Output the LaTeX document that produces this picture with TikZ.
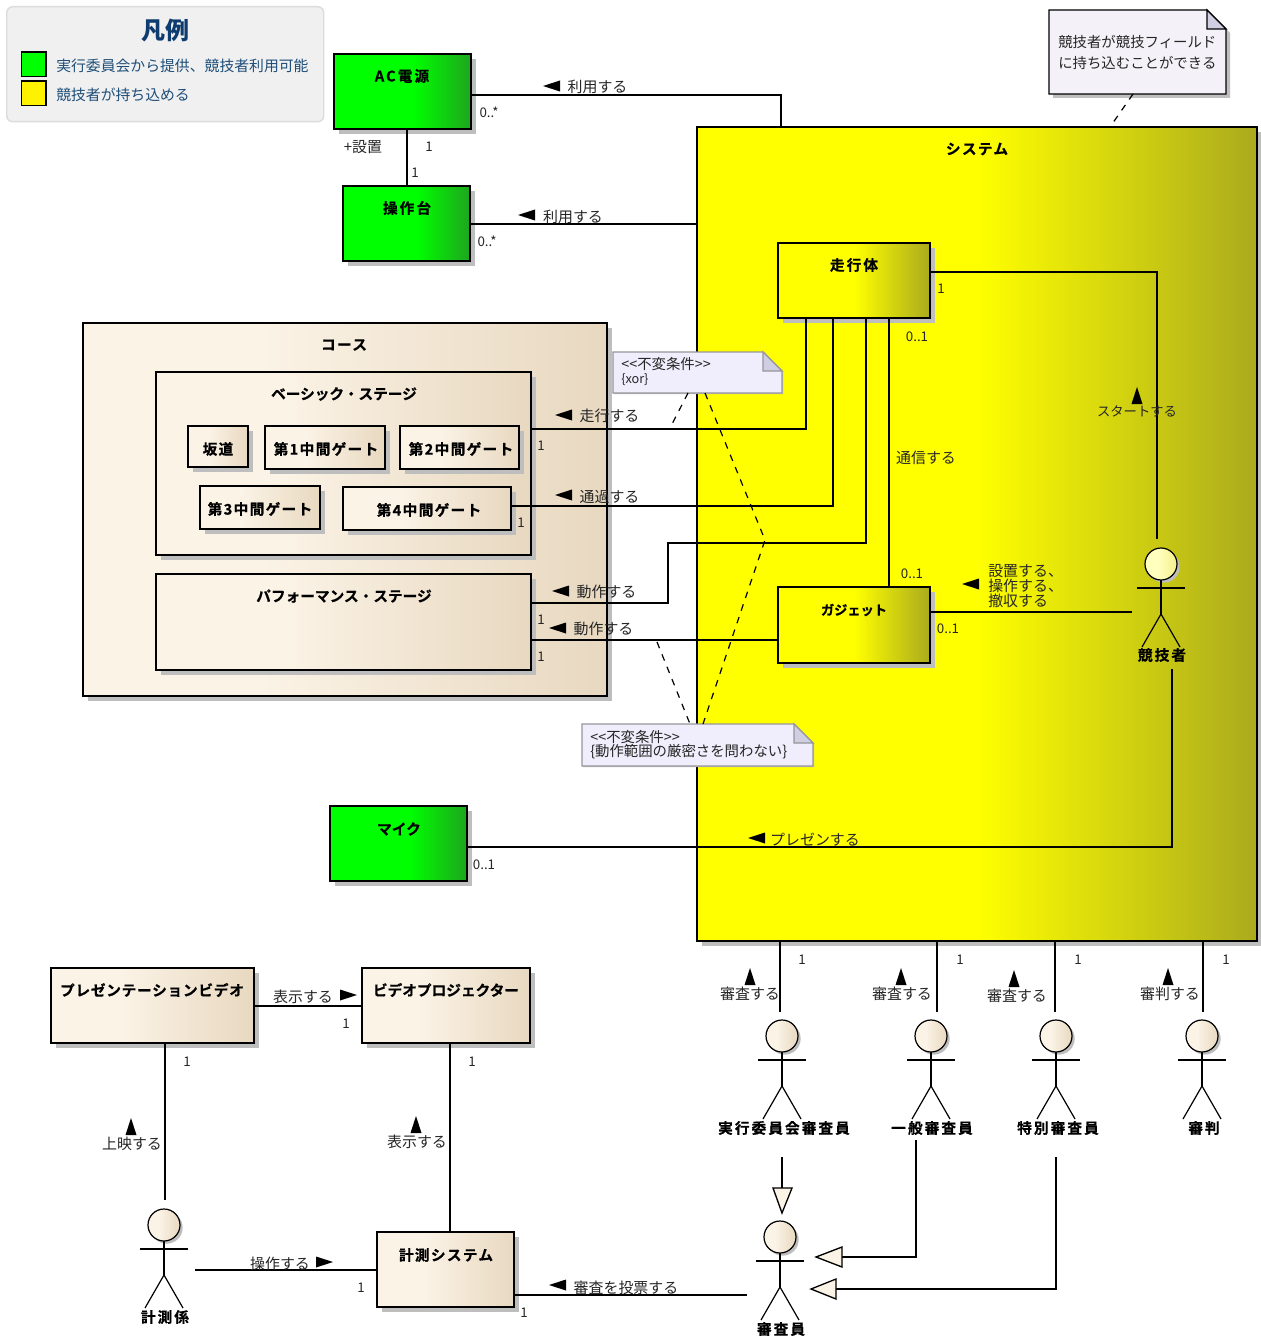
\documentclass[tikz,border=0pt]{standalone}
\usepackage{fontspec}
\setmainfont{Noto Sans CJK JP}
\newfontfamily\tkb[LetterSpace=14,BoldFont=* Bold,BoldFeatures={FakeBold=0.6}]{Noto Sans CJK JP}
\newfontfamily\tkg[LetterSpace=9,BoldFont=* Bold,BoldFeatures={FakeBold=0.6}]{Noto Sans CJK JP}
\newfontfamily\tkm[LetterSpace=5,BoldFont=* Bold,BoldFeatures={FakeBold=0.6}]{Noto Sans CJK JP}
\newfontfamily\tkc[BoldFont=* Bold,BoldFeatures={FakeBold=0.6}]{Noto Sans CJK JP}
\usetikzlibrary{shadows}
\definecolor{shgray}{RGB}{190,190,190}
\definecolor{gend}{RGB}{30,165,30}
\definecolor{yend}{RGB}{170,170,30}
\definecolor{bl}{RGB}{251,243,230}
\definecolor{br}{RGB}{232,216,192}
\definecolor{hl}{RGB}{255,255,190}
\definecolor{hr}{RGB}{245,240,140}
\definecolor{notefill}{RGB}{240,238,252}
\definecolor{notefilla}{RGB}{245,241,248}
\definecolor{notefold}{RGB}{208,206,226}
\definecolor{noteline}{RGB}{150,150,155}
\definecolor{navy}{RGB}{14,60,110}
\definecolor{legtext}{RGB}{30,78,121}
\definecolor{legfill}{RGB}{240,240,240}
\definecolor{legline}{RGB}{220,220,220}
\pgfdeclarehorizontalshading{gshade}{100bp}{color(0bp)=(green); color(54bp)=(green); color(75bp)=(gend); color(100bp)=(gend)}
\pgfdeclarehorizontalshading{yshade}{100bp}{color(0bp)=(yellow); color(50bp)=(yellow); color(75bp)=(yend); color(100bp)=(yend)}
\pgfdeclarehorizontalshading{bshade}{100bp}{color(0bp)=(bl); color(25bp)=(bl); color(42bp)=(bl); color(75bp)=(br); color(100bp)=(br)}
\pgfdeclarehorizontalshading{hshade}{100bp}{color(0bp)=(hl); color(45bp)=(hl); color(75bp)=(hr); color(100bp)=(hr)}
\tikzset{
  cbox/.style={draw=black,line width=1pt,anchor=north west,inner sep=0pt,outer sep=0pt,rectangle,
    drop shadow={shadow xshift=4pt,shadow yshift=-4pt,fill=shgray,opacity=1}},
  conn/.style={draw=black,line width=1pt},
  dashc/.style={draw=black,line width=.9pt,dash pattern=on 5pt off 5pt},
  gen/.style={draw=black,line width=1pt,fill=bl},
  ttl/.style={font=\tkb\fontsize{11}{13}\selectfont\bfseries,inner sep=0pt},
  ttlg/.style={font=\tkg\fontsize{11}{13}\selectfont\bfseries,inner sep=0pt},
  ttlm/.style={font=\tkm\fontsize{11}{13}\selectfont\bfseries,inner sep=0pt},
  ttlc/.style={font=\tkc\fontsize{11}{13}\selectfont\bfseries,inner sep=0pt},
  txt/.style={font=\fontsize{11.2}{13}\selectfont,inner sep=0pt,text=black!85},
  txtl/.style={txt,anchor=west},
  num/.style={font=\fontsize{10}{12}\selectfont,inner sep=0pt,text=black!85},
  notet/.style={font=\fontsize{10.8}{12}\selectfont,inner sep=0pt,anchor=west,text=black!85},
  limb/.style={draw=black,line width=.9pt},
  legt/.style={font=\fontsize{11.13}{13}\selectfont,inner sep=0pt,anchor=west,text=legtext}
}
\newcount\tcnt
\newcommand{\tname}{\global\advance\tcnt by 1 }
\newcommand{\lab}[4]{\tname\node[#1,name=t\the\tcnt] at (#2,#3) {#4};}
\newcommand{\cls}[6]{\node[cbox,shading=#6,name=#1,minimum width={(#4-#2)*0.75pt},minimum height={(#5-#3)*0.75pt}] at (#2,#3) {};}
\newcommand{\tl}[2]{\fill[black] (#1,#2) -- ++(17,-5.5) -- ++(0,11) -- cycle;}
\newcommand{\tr}[2]{\fill[black] (#1+17,#2) -- ++(-17,-5.5) -- ++(0,11) -- cycle;}
\newcommand{\tu}[2]{\fill[black] (#1,#2) -- ++(5.5,17) -- ++(-11,0) -- cycle;}
% name, x, head y, shade, label x, label y, label
\newcommand{\actor}[7]{%
  \node[circle,draw=black,line width=.9pt,inner sep=0pt,outer sep=0pt,minimum size=24pt,shading=#4,
    drop shadow={shadow xshift=2pt,shadow yshift=-2pt,fill=shgray,opacity=1},name=#1] at (#2,#3) {};
  \draw[limb] (#1.south) -- (#2,#3+50);
  \draw[limb] (#2-24,#3+24) -- (#2+24,#3+24);
  \draw[limb] (#2-19,#3+83) -- (#2,#3+50) -- (#2+19,#3+83);
  \lab{ttl}{#5}{#6}{#7}}
% name, x1,y1,x2,y2, border colour, fill, fold fill, shadow offset
\newcommand{\notebox}[9]{%
  \node[rectangle,inner sep=0pt,outer sep=0pt,anchor=north west,name=#1,minimum width={(#4-#2)*0.75pt},minimum height={(#5-#3)*0.75pt}] at (#2,#3) {};
  \fill[shgray] (#2+#9,#3+#9) -- (#4+#9-19,#3+#9) -- (#4+#9,#3+19+#9) -- (#4+#9,#5+#9) -- (#2+#9,#5+#9) -- cycle;
  \draw[draw=#6,line width=1pt,fill=#7] (#2,#3) -- (#4-19,#3) -- (#4,#3+19) -- (#4,#5) -- (#2,#5) -- cycle;
  \draw[draw=#6,line width=1pt,fill=#8] (#4-19,#3) -- (#4-19,#3+19) -- (#4,#3+19) -- cycle;}
\begin{document}
\begin{tikzpicture}[x=0.75pt,y=-0.75pt]
\useasboundingbox (0,0) rectangle (1260,1337);
\fill[white] (0,0) rectangle (1260,1337);
% legend
\node[draw=legline,fill=legfill,line width=1.1pt,rounded corners=4.5pt,anchor=north west,inner sep=0pt,minimum width=237.75pt,minimum height=86.25pt,name=legend] at (6,6) {};
\lab{font=\fontsize{18}{20}\selectfont\bfseries,inner sep=0pt,text=navy}{165}{30}{凡例}
\node[draw=black,line width=1pt,fill=green,minimum size=18.5pt,inner sep=0pt,name=leggreen] at (33.5,64.5) {};
\node[draw=black,line width=1pt,fill=yellow,minimum size=18.5pt,inner sep=0pt,name=legyellow] at (33.5,93.5) {};
\lab{legt}{56}{65.5}{実行委員会から提供、競技者利用可能}
\lab{legt}{56}{94.5}{競技者が持ち込める}
% containers
\cls{sys}{697}{127}{1257}{941}{yshade}
\cls{course}{83}{323}{607}{696}{bshade}
\cls{basic}{156}{372}{531}{555}{bshade}
\cls{perf}{156}{574}{531}{670}{bshade}
% boxes
\cls{ac}{334}{54}{471}{129}{gshade}
\cls{desk}{343}{186}{470}{261}{gshade}
\cls{mic}{330}{806}{467}{881}{gshade}
\cls{runner}{778}{243}{930}{318}{yshade}
\cls{gadget}{778}{587}{930}{663}{yshade}
\cls{slope}{188}{426}{248}{467}{bshade}
\cls{g1}{265}{426}{385}{469}{bshade}
\cls{g2}{400}{426}{519}{469}{bshade}
\cls{g3}{200}{486}{320}{529}{bshade}
\cls{g4}{343}{487}{511}{530}{bshade}
\cls{video}{51}{968}{254}{1043}{bshade}
\cls{proj}{362}{968}{530}{1043}{bshade}
\cls{timing}{377}{1232}{514}{1307}{bshade}
% actors
\actor{player}{1161}{564}{hshade}{1162}{655}{競技者}
\actor{jex}{782}{1036}{bshade}{784}{1128}{実行委員会審査員}
\actor{jgen}{931}{1036}{bshade}{932}{1128}{一般審査員}
\actor{jsp}{1056}{1036}{bshade}{1058}{1128}{特別審査員}
\actor{ref}{1202}{1036}{bshade}{1204}{1128}{審判}
\actor{judge}{780}{1237}{bshade}{781}{1329}{審査員}
\actor{timer}{164}{1225}{bshade}{165}{1317}{計測係}
% free ends of connectors
\coordinate (pT) at (1157,539);
\coordinate (pL) at (1132,612);
\coordinate (pB) at (1172,669);
\coordinate (jexT) at (780,1012);
\coordinate (jgenT) at (937,1012);
\coordinate (jspT) at (1055,1012);
\coordinate (refT) at (1203,1012);
\coordinate (timerT) at (165,1200);
\coordinate (timerR) at (195,1270);
\coordinate (judgeL) at (747,1295);
\coordinate (jexB) at (782,1188);
\coordinate (jexG) at (782,1157);
\coordinate (jgenB) at (916,1140);
\coordinate (jspB) at (1056,1157);
% connectors
\draw[conn] (ac.south -| 407,0) -- (desk.north -| 407,0);
\draw[conn] (ac.east |- 0,95) -| (sys.north -| 781,0);
\draw[conn] (desk.east |- 0,224) -- (sys.west |- 0,224);
\draw[conn] (runner.south -| 806,0) |- (basic.east |- 0,429);
\draw[conn] (runner.south -| 833,0) |- (g4.east |- 0,506);
\draw[conn] (runner.south -| 866,0) -- (866,543) -- (668,543) -- (668,603) -- (perf.east |- 0,603);
\draw[conn] (gadget.west |- 0,640) -- (perf.east |- 0,640);
\draw[conn] (runner.south -| 889,0) -- (gadget.north -| 889,0);
\draw[conn] (runner.east |- 0,272) -| (pT);
\draw[conn] (gadget.east |- 0,612) -- (pL);
\draw[conn] (mic.east |- 0,847) -| (pB);
\draw[conn] (sys.south -| jexT) -- (jexT);
\draw[conn] (sys.south -| jgenT) -- (jgenT);
\draw[conn] (sys.south -| jspT) -- (jspT);
\draw[conn] (sys.south -| refT) -- (refT);
\draw[conn] (video.east |- 0,1006) -- (proj.west |- 0,1006);
\draw[conn] (video.south -| timerT) -- (timerT);
\draw[conn] (proj.south -| 450,0) -- (timing.north -| 450,0);
\draw[conn] (timerR) -- (timing.west |- timerR);
\draw[conn] (timing.east |- judgeL) -- (judgeL);
% generalisations
\draw[conn] (jexG) -- (jexB);
\draw[gen] (773,1188) -- (792,1188) -- (782,1213) -- cycle;
\coordinate (g1tip) at (842,1257);
\coordinate (g2tip) at (836,1289);
\draw[conn] (jgenB) |- (g1tip);
\draw[gen] (842,1247) -- (842,1267) -- (816,1257) -- cycle;
\draw[conn] (jspB) |- (g2tip);
\draw[gen] (836,1279) -- (836,1299) -- (811,1289) -- cycle;
% notes
\notebox{note1}{1049}{10}{1226}{94}{black}{notefilla}{notefold}{4}
\notebox{note2}{613}{352}{782}{393}{noteline}{notefill}{notefold}{1}
\notebox{note3}{582}{724}{813}{766}{noteline}{notefill}{notefold}{1}
\draw[dashc] (note1.south -| 1133,0) -- (sys.north -| 1110,0);
\draw[dashc] (note2.south -| 688,0) -- (670,428);
\draw[dashc] (note2.south -| 705,0) -- (765,540) -- (note3.north -| 703,0);
\coordinate (dash4) at (657,642);
\draw[dashc] (dash4) -- (note3.north -| 690,0);
\lab{notet}{1058}{42}{競技者が競技フィールド}
\lab{notet}{1058}{63}{に持ち込むことができる}
\lab{notet}{621}{364}{<{}<不変条件>{}>}
\lab{notet,font=\fontsize{9.5}{11}\selectfont}{621}{380}{\{xor\}}
\lab{notet}{590}{737}{<{}<不変条件>{}>}
\lab{notet}{590}{752}{\{動作範囲の厳密さを問わない\}}
% titles
\lab{ttl}{402}{76}{AC電源}
\lab{ttl}{407}{208}{操作台}
\lab{ttlg}{977}{149}{システム}
\lab{ttl}{854}{265}{走行体}
\lab{ttlc,font=\tkc\fontsize{9.9}{13}\selectfont\bfseries}{854}{610}{ガジェット}
\lab{ttlg}{344}{345}{コース}
\lab{ttlc}{344}{394}{ベーシック・ステージ}
\lab{ttlc}{344}{596}{パフォーマンス・ステージ}
\lab{ttlg}{218}{449}{坂道}
\lab{ttlg}{326}{449}{第1中間ゲート}
\lab{ttlg}{461}{449}{第2中間ゲート}
\lab{ttlg}{260}{509}{第3中間ゲート}
\lab{ttlg}{429}{510}{第4中間ゲート}
\lab{ttlc}{399}{829}{マイク}
\lab{ttlm}{152}{990}{プレゼンテーションビデオ}
\lab{ttlc}{446}{990}{ビデオプロジェクター}
\lab{ttlg}{446}{1255}{計測システム}
% connector labels
\tl{543}{86}\lab{txt}{597.5}{87}{利用する}
\tl{518}{215}\lab{txt}{573}{217}{利用する}
\tl{555}{415}\lab{txt}{609.5}{416}{走行する}
\tl{555}{495}\lab{txt}{609.5}{497}{通過する}
\tl{552}{591}\lab{txt}{606.5}{592}{動作する}
\tl{549}{628}\lab{txt}{603.5}{629}{動作する}
\tl{748}{838}\lab{txt}{815}{840}{プレゼンする}
\tl{962}{584}
\lab{txtl}{988}{571}{設置する、}
\lab{txtl}{988}{586}{操作する、}
\lab{txtl}{988}{601}{撤収する}
\lab{txt}{926}{458}{通信する}
\tu{1137}{387}\lab{txt,font=\fontsize{10}{13}\selectfont}{1137}{411}{スタートする}
\tu{750}{968}\lab{txt}{750}{994}{審査する}
\tu{901}{968}\lab{txt}{902}{994}{審査する}
\tu{1014}{970}\lab{txt}{1017}{996}{審査する}
\tu{1168}{968}\lab{txt}{1170}{994}{審判する}
\lab{txt}{303}{997}{表示する}\tr{340}{995}
\tu{131}{1118}\lab{txt}{132}{1144}{上映する}
\tu{416}{1116}\lab{txt}{417}{1142}{表示する}
\lab{txt}{280}{1264}{操作する}\tr{316}{1262}
\tl{549}{1285}\lab{txt}{626}{1288}{審査を投票する}
% multiplicities
\lab{num}{489}{112}{0..*}
\lab{num}{487}{241}{0..*}
\lab{txt}{363}{147}{+設置}
\lab{num}{429}{147}{1}
\lab{num}{415}{173}{1}
\lab{num}{941}{289}{1}
\lab{num}{917}{337}{0..1}
\lab{num}{912}{574}{0..1}
\lab{num}{948}{629}{0..1}
\lab{num}{541}{446}{1}
\lab{num}{521}{523}{1}
\lab{num}{541}{620}{1}
\lab{num}{541}{657}{1}
\lab{num}{484}{865}{0..1}
\lab{num}{802}{960}{1}
\lab{num}{960}{960}{1}
\lab{num}{1078}{960}{1}
\lab{num}{1226}{960}{1}
\lab{num}{346}{1024}{1}
\lab{num}{187}{1062}{1}
\lab{num}{472}{1062}{1}
\lab{num}{361}{1288}{1}
\lab{num}{524}{1313}{1}
\end{tikzpicture}
\end{document}
